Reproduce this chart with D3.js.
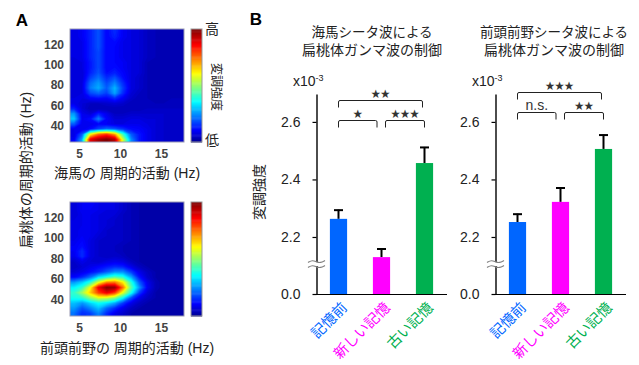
<!DOCTYPE html>
<html>
<head>
<meta charset="utf-8">
<script src="https://cdn.jsdelivr.net/npm/d3@7"></script>
<style>
	html, body { margin: 0; background: #fff; }
	svg { display: block; }
	text { font-family: "Liberation Sans", "Noto Sans CJK JP", sans-serif; fill: #222; }
	.axis path.domain { stroke: #000; stroke-width: 1.4; }
	.axis line { stroke: #000; stroke-width: 1.2; }
</style>
</head>
<body>
<div id="chart"></div>
<script>
// heatmap values, 0-100 on the colour bar, rows from top (high Hz) to bottom
const hippocampusGrid = [
	[8,10,14,19,11,15,10,8,7,5,4,3,3,3],
	[8,10,14,19,11,14,10,8,7,5,4,3,3,3],
	[8,9,14,19,11,12,9,8,7,5,4,3,3,3],
	[8,9,14,19,11,11,9,8,7,5,4,3,3,3],
	[8,9,14,18,11,11,9,8,7,5,4,3,3,3],
	[8,9,14,18,11,11,9,8,7,5,4,3,3,3],
	[7,8,13,18,11,11,10,8,7,4,3,3,3,3],
	[7,8,13,18,11,12,10,8,7,4,3,3,3,3],
	[7,7,14,19,12,14,11,8,7,4,3,3,3,3],
	[7,7,17,22,15,19,12,8,6,4,3,3,3,3],
	[7,8,21,26,18,24,15,8,6,4,3,3,3,3],
	[7,8,23,28,20,29,17,8,6,4,3,3,3,3],
	[7,8,18,21,17,27,15,7,5,4,3,3,3,3],
	[8,8,11,12,11,15,10,6,4,4,3,3,4,4],
	[9,7,5,5,6,7,6,4,4,4,4,4,4,4],
	[14,7,4,4,4,4,4,4,4,5,5,5,5,5],
	[26,9,7,14,9,5,5,6,6,6,6,6,5,5],
	[31,10,12,24,11,7,7,8,8,7,7,6,5,5],
	[20,9,9,11,10,8,8,9,9,8,7,6,5,5],
	[9,9,12,18,22,20,16,12,11,9,7,6,5,5],
	[8,20,60,75,80,70,42,20,13,9,7,6,5,5],
	[10,28,88,96,100,94,56,25,13,9,7,6,5,5]
]

const prefrontalGrid = [
	[7,10,11,9,8,8,6,4,3,2,2,2,2,2],
	[7,10,10,9,8,8,6,4,3,2,2,2,2,2],
	[7,9,9,8,7,7,5,4,3,2,2,2,2,2],
	[8,9,9,8,7,6,5,4,3,2,2,2,2,2],
	[8,9,9,8,7,6,5,4,3,2,2,2,2,2],
	[8,10,9,8,6,5,5,4,3,2,2,2,2,2],
	[8,10,9,7,6,5,5,4,3,2,2,2,2,2],
	[9,11,8,6,5,5,5,4,3,2,2,2,2,2],
	[10,12,8,6,5,5,4,3,3,2,2,2,2,2],
	[10,15,8,6,5,5,4,3,3,2,2,2,2,2],
	[9,15,8,6,5,6,5,3,3,2,2,2,2,2],
	[6,9,7,6,8,9,8,5,3,2,2,2,2,2],
	[5,7,9,11,13,15,14,9,5,3,2,2,2,2],
	[7,9,12,15,20,25,25,17,9,5,3,2,2,2],
	[11,15,22,33,38,44,40,28,13,6,3,2,2,2],
	[26,31,40,58,72,74,62,40,20,9,4,2,2,2],
	[35,41,60,88,100,98,75,45,26,10,4,2,2,2],
	[41,52,66,80,88,80,58,38,17,7,3,2,2,2],
	[38,40,50,58,56,50,36,19,9,5,3,2,2,2],
	[30,26,32,37,34,28,17,9,5,3,2,2,2,2],
	[26,19,24,30,21,15,9,5,3,2,2,2,2,2],
	[22,15,17,24,15,9,6,3,2,2,2,2,2,2]
]

const freqTicksX = [5, 10, 15]
const freqTicksY = [40, 60, 80, 100, 120]

// bars
const categories = ['記憶前', '新しい記憶', '古い記憶']
const barColors = ['#0066ff', '#ff00ff', '#00b050']
const hippocampusMeans = [2.263, 2.13, 2.457]
const hippocampusErrors = [0.032, 0.03, 0.056]
const prefrontalMeans = [2.252, 2.322, 2.506]
const prefrontalErrors = [0.029, 0.05, 0.05]
const modulationTicks = [0, 2.2, 2.4, 2.6]

const hippocampusSig = [
	{ from: 0, to: 2, label: '★★', level: 0 },
	{ from: 0, to: 1, label: '★', level: 1 },
	{ from: 1, to: 2, label: '★★★', level: 1 }
]
const prefrontalSig = [
	{ from: 0, to: 2, label: '★★★', level: 0 },
	{ from: 0, to: 1, label: 'n.s.', level: 1 },
	{ from: 1, to: 2, label: '★★', level: 1 }
]

const outerWidth = 639
const outerHeight = 365

const svg = d3.select('#chart').append('svg')
	.attr('width', outerWidth)
	.attr('height', outerHeight)

const jet = d3.scaleLinear()
	.domain([0, 11, 36, 61, 86, 100])
	.range(['#00008f', '#0000ff', '#00ffff', '#ffff00', '#ff0000', '#800000'])

const label = (text, x, y, size, rotate) => svg.append('text')
	.attr('transform', `translate(${x}, ${y}) rotate(${rotate || 0})`)
	.attr('text-anchor', 'middle')
	.attr('dominant-baseline', 'central')
	.style('font-size', `${size}px`)
	.text(text)

const drawHeatmap = ({ grid, top, bottom }) => {

	const left = 70
	const right = 184
	const freqX = [3.9, 17.8]
	const freqY = [24, 135]

	const x = d3.scaleLinear().domain(freqX).range([left, right])
	const y = d3.scaleLinear().domain(freqY).range([bottom, top])

	const rows = grid.length
	const cols = grid[0].length

	// repeat the edge cells once, otherwise contours cut the corners off
	const edged = row => [row[0], ...row, row[cols - 1]]
	const padded = [edged(grid[0]), ...grid.map(edged), edged(grid[rows - 1])]

	// d3.contours indexes cells, so map cell index to Hz and then to pixels
	const col = d3.scaleLinear().domain([1, cols + 1]).range(freqX)
	const row = d3.scaleLinear().domain([1, rows + 1]).range([freqY[1], freqY[0]])
	const path = d3.geoPath(d3.geoTransform({
		point(px, py) { this.stream.point(x(col(px)), y(row(py))) }
	}))

	const contours = d3.contours()
		.size([cols + 2, rows + 2])
		.thresholds(d3.range(0, 100, 1))(padded.flat())

	const clipId = `clip-${top}`
	svg.append('clipPath')
			.attr('id', clipId)
		.append('rect')
			.attr('x', left)
			.attr('y', top)
			.attr('width', right - left)
			.attr('height', bottom - top)

	svg.append('g')
			.attr('clip-path', `url(#${clipId})`)
		.selectAll('path')
			.data(contours)
		.enter().append('path')
			.attr('d', path)
			.attr('fill', d => jet(d.value + 0.5))

	// frame
	svg.append('rect')
		.attr('x', left)
		.attr('y', top)
		.attr('width', right - left)
		.attr('height', bottom - top)
		.attr('fill', 'none')
		.attr('stroke', '#9a9ab4')

	const xAxis = svg.append('g')
		.attr('transform', `translate(0, ${bottom})`)
		.call(d3.axisBottom(x).tickValues(freqTicksX).tickSize(0).tickPadding(7))

	const yAxis = svg.append('g')
		.attr('transform', `translate(${left}, 0)`)
		.call(d3.axisLeft(y).tickValues(freqTicksY).tickSize(0).tickPadding(6))

	xAxis.select('.domain').remove()
	yAxis.select('.domain').remove()
	xAxis.selectAll('text').style('font-size', '12px').style('font-weight', 'bold').style('fill', '#444')
	yAxis.selectAll('text').style('font-size', '12px').style('font-weight', 'bold').style('fill', '#444')

	// colour bar
	const level = d3.scaleLinear().domain([0, 100]).range([bottom, top])
	svg.append('g').selectAll('rect')
			.data(d3.range(0, 100))
		.enter().append('rect')
			.attr('x', 191)
			.attr('y', d => level(d + 1))
			.attr('width', 11)
			.attr('height', d => level(d) - level(d + 1) + 0.5)
			.attr('fill', d => jet(d + 0.5))

	svg.append('rect')
		.attr('x', 191)
		.attr('y', top)
		.attr('width', 11)
		.attr('height', bottom - top)
		.attr('fill', 'none')
		.attr('stroke', '#999')

}

const drawBars = ({ axisX, means, errors, sig, topBracket, lowBracket, baselineLeft }) => {

	const baseline = 294

	// the axis is cut between 0 and 2.1, so the scale has two pieces
	const y = d3.scaleLinear()
		.domain([0, 2.1, 2.697])
		.range([baseline, 265.75, 94])

	const x = d3.scaleBand()
		.domain(categories)
		.range([axisX + 0.5, axisX + 129.5])
		.paddingInner(0.6)
		.paddingOuter(0.3)

	const g = svg.append('g')

	// error bars
	categories.forEach((c, i) => {
		const cx = x(c) + x.bandwidth() / 2
		const errTop = y(means[i] + errors[i])
		g.append('line')
			.attr('x1', cx).attr('x2', cx)
			.attr('y1', y(means[i])).attr('y2', errTop)
			.attr('stroke', '#000').attr('stroke-width', 2)
		g.append('line')
			.attr('x1', cx - 4.5).attr('x2', cx + 4.5)
			.attr('y1', errTop + 0.5).attr('y2', errTop + 0.5)
			.attr('stroke', '#000').attr('stroke-width', 2)
	})

	// bars
	g.selectAll('rect')
			.data(categories)
		.enter().append('rect')
			.attr('x', d => x(d))
			.attr('y', (d, i) => y(means[i]))
			.attr('width', x.bandwidth())
			.attr('height', (d, i) => baseline - y(means[i]))
			.attr('fill', (d, i) => barColors[i])

	// axes
	const yAxis = svg.append('g')
		.attr('class', 'axis')
		.attr('transform', `translate(${axisX}, 0)`)
		.call(d3.axisLeft(y)
			.tickValues(modulationTicks)
			.tickFormat(d3.format('.1f'))
			.tickSize(4)
			.tickSizeOuter(0)
			.tickPadding(12)
		)

	yAxis.selectAll('text')
		.style('font-size', '14px')

	svg.append('line')
		.attr('x1', baselineLeft).attr('x2', axisX + 130.5)
		.attr('y1', baseline + 0.5).attr('y2', baseline + 0.5)
		.attr('stroke', '#000').attr('stroke-width', 1.2)

	// axis break
	const breakY = 264
	const wave = d3.line().curve(d3.curveBasis)
	const waveAt = dy => wave([-8.5, -4, 0, 4, 8.5].map((dx, i) => [axisX + dx, breakY + dy + [1, -1.5, 0.5, 1.5, -1][i]]))
	svg.append('rect')
		.attr('x', axisX - 2).attr('y', breakY - 2)
		.attr('width', 4).attr('height', 4)
		.attr('fill', '#fff')
	svg.selectAll(null)
			.data([-2.5, 2.5])
		.enter().append('path')
			.attr('d', waveAt)
			.attr('fill', 'none')
			.attr('stroke', '#808080')
			.attr('stroke-width', 1.2)

	// x10-3
	const unit = svg.append('text')
		.attr('x', axisX - 23.5)
		.attr('y', 86)
		.style('font-size', '14px')
		.text('x10')
	unit.append('tspan')
		.attr('dy', -5)
		.style('font-size', '9px')
		.text('-3')

	// significance brackets
	sig.forEach(s => {
		const x0 = x(categories[s.from]) + x.bandwidth() / 2 + (s.from === 1 ? 4 : 0)
		const x1 = x(categories[s.to]) + x.bandwidth() / 2 - (s.to === 1 ? 4.5 : 0) - (s.level === 0 ? 2 : 0)
		const by = s.level === 0 ? topBracket : lowBracket
		svg.append('path')
			.attr('d', `M${x0},${by + 7}V${by + 1.5}Q${x0},${by} ${x0 + 1.5},${by}H${x1 - 1.5}Q${x1},${by} ${x1},${by + 1.5}V${by + 7}`)
			.attr('fill', 'none')
			.attr('stroke', '#222')
			.attr('stroke-width', 1)
		const isText = s.label === 'n.s.'
		svg.append('text')
			.attr('x', (x0 + x1) / 2)
			.attr('y', by - (isText ? 8 : 7))
			.attr('text-anchor', 'middle')
			.attr('dominant-baseline', 'central')
			.style('font-size', isText ? '14px' : '9.5px')
			.style('fill', '#333')
			.text(s.label)
	})

	// tilted category labels
	svg.append('g').selectAll('text')
			.data(categories)
		.enter().append('text')
			.attr('transform', d => `translate(${x(d) + x.bandwidth() / 2 + 6}, 305) rotate(-45)`)
			.attr('text-anchor', 'end')
			.attr('dominant-baseline', 'central')
			.style('font-size', '14.5px')
			.style('fill', (d, i) => barColors[i])
			.text(d => d)

}

// panel A
drawHeatmap({ grid: hippocampusGrid, top: 29, bottom: 142 })
drawHeatmap({ grid: prefrontalGrid, top: 202, bottom: 316 })

// panel B
drawBars({
	axisX: 316.5,
	means: hippocampusMeans,
	errors: hippocampusErrors,
	sig: hippocampusSig,
	topBracket: 100.5,
	lowBracket: 120.5,
	baselineLeft: 316
})
drawBars({
	axisX: 495.5,
	means: prefrontalMeans,
	errors: prefrontalErrors,
	sig: prefrontalSig,
	topBracket: 92.5,
	lowBracket: 112.5,
	baselineLeft: 495
})

// text
label('A', 22, 20, 17).style('font-weight', 'bold').style('fill', '#000')
label('B', 256, 19, 17).style('font-weight', 'bold').style('fill', '#000')

label('海馬の 周期的活動 (Hz)', 127, 173, 14)
label('前頭前野の 周期的活動 (Hz)', 127, 348, 14)
label('扁桃体の周期的活動 (Hz)', 26, 170, 14, -90)

label('高', 212, 29, 14)
label('低', 212, 140, 14)
label('変調強度', 216, 87, 12, 90)

label('海馬シータ波による', 372, 32, 13.5)
label('扁桃体ガンマ波の制御', 372, 50, 14)
label('前頭前野シータ波による', 554, 32, 13.5)
label('扁桃体ガンマ波の制御', 554, 50, 14)
label('変調強度', 259, 192, 14, -90)
</script>
</body>
</html>
